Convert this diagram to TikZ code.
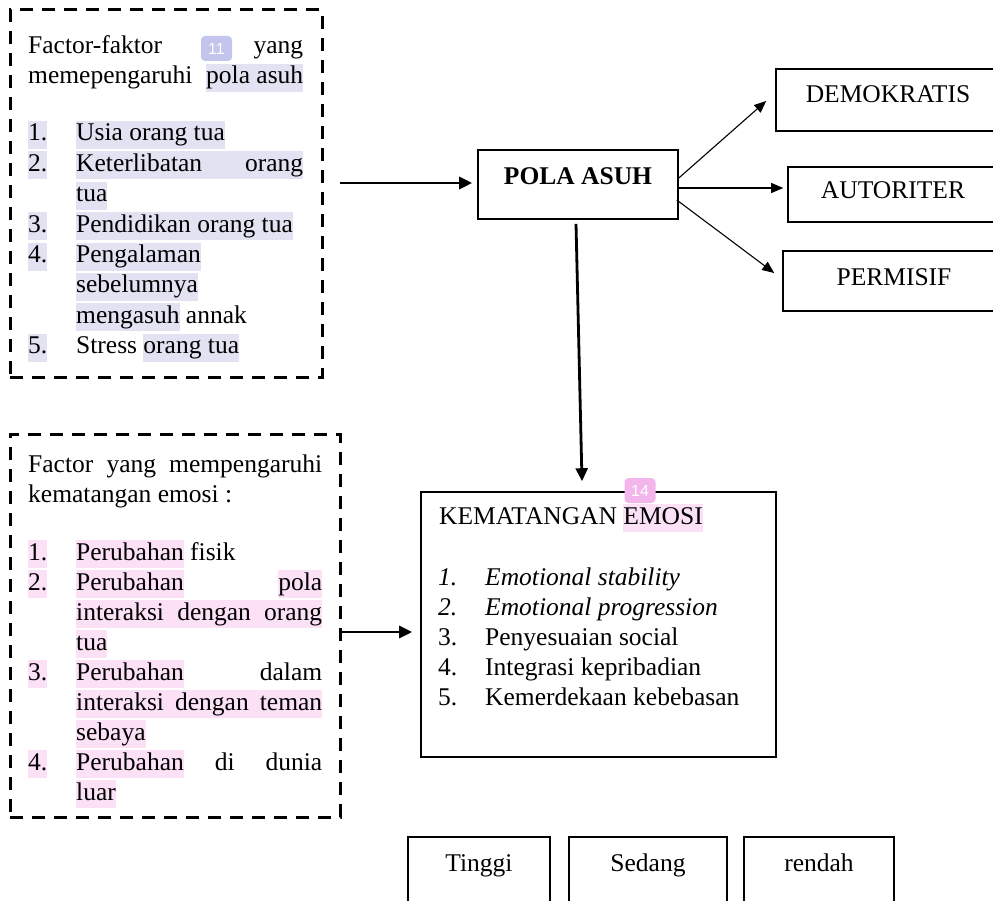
\documentclass[tikz,border=0pt]{standalone}
\usepackage{fontspec}
\setmainfont{Liberation Serif}
\newfontfamily\badgefont{Liberation Sans}
\usetikzlibrary{arrows.meta,calc}
\definecolor{hla}{HTML}{E2E2F3}
\definecolor{hlb}{HTML}{FBE0F6}
\definecolor{badgea}{HTML}{C3C5EC}
\definecolor{badgeb}{HTML}{F3B6EC}
\newcommand\hlstrut{\rule[-8pt]{0pt}{28pt}}
\newcommand\hla[1]{{\setlength\fboxsep{0pt}\colorbox{hla}{\hlstrut#1}}}
\newcommand\hlb[1]{{\setlength\fboxsep{0pt}\colorbox{hlb}{\hlstrut#1}}}
\newcommand\numbox[2][48pt]{\makebox[#1][l]{#2}}
\newcommand\bodyfont{\fontsize{25.5pt}{30pt}\selectfont}
\begin{document}
\begin{tikzpicture}[x=1pt,y=-1pt,
  txt/.style={anchor=base west, inner sep=0pt, font=\bodyfont},
  dbox/.style={draw, dash pattern=on 13pt off 9pt, line width=3pt, inner sep=0pt},
  sbox/.style={draw, line width=1.6pt, inner sep=0pt, font=\bodyfont, anchor=base},
  bigarrow/.style={-{Triangle[length=13pt,width=12pt]}, line width=2.8pt},
  thinarrow/.style={-{Triangle[length=12pt,width=10pt]}, line width=1.1pt},
  badge/.style={rounded corners=4pt, inner sep=0pt, text=white, font=\badgefont\fontsize{16pt}{16pt}\selectfont, minimum width=31pt, minimum height=25pt}]
\clip (0,0) rectangle (993,901);
\fill[white] (0,0) rectangle (993,901);

% dashed factor boxes
\node[dbox, minimum width=312pt, minimum height=367pt] (fk1) at (166,193.5) {};
\node[dbox, minimum width=330pt, minimum height=383pt] (fk2) at (175,625.5) {};

% top-left text
\node[txt] (a0) at (28,54) {\makebox[275pt][s]{Factor-faktor\hfill yang}};
\node[badge, fill=badgea] (b11) at (216.5,48.5) {11};
\node[txt] (a1) at (28,84) {\makebox[275pt][s]{memepengaruhi \hla{pola asuh}}};
\node[txt] (a3) at (28,141) {\numbox{\hla{1.}}\hla{Usia orang tua}};
\node[txt] (a4) at (28,171.4) {\numbox{\hla{2.}}\hla{\makebox[227pt][s]{Keterlibatan orang}}};
\node[txt] (a5) at (76,201.8) {\hla{tua}};
\node[txt] (a6) at (28,232.2) {\numbox{\hla{3.}}\hla{Pendidikan orang tua}};
\node[txt] (a7) at (28,262.6) {\numbox{\hla{4.}}\hla{Pengalaman}};
\node[txt] (a8) at (76,293) {\hla{sebelumnya}};
\node[txt] (a9) at (76,323.4) {\hla{mengasuh} annak};
\node[txt] (a10) at (28,353.8) {\numbox{\hla{5.}}Stress \hla{orang tua}};

% bottom-left text
\node[txt] (c0) at (28,472) {\makebox[294pt][s]{Factor yang mempengaruhi}};
\node[txt] (c1) at (28,502) {kematangan emosi :};
\node[txt] (c3) at (28,560) {\numbox{\hlb{1.}}\hlb{Perubahan} fisik};
\node[txt] (c4) at (28,590) {\numbox{\hlb{2.}}\makebox[246pt][s]{\hlb{Perubahan}\hfill\hlb{pola}}};
\node[txt] (c5) at (76,620) {\hlb{\makebox[246pt][s]{interaksi dengan orang}}};
\node[txt] (c6) at (76,650) {\hlb{tua}};
\node[txt] (c7) at (28,680) {\numbox{\hlb{3.}}\makebox[246pt][s]{\hlb{Perubahan}\hfill dalam}};
\node[txt] (c8) at (76,710) {\hlb{\makebox[246pt][s]{interaksi dengan teman}}};
\node[txt] (c9) at (76,740) {\hlb{sebaya}};
\node[txt] (c10) at (28,770) {\numbox{\hlb{4.}}\makebox[246pt][s]{\hlb{Perubahan} di dunia}};
\node[txt] (c11) at (76,800) {\hlb{luar}};

% solid boxes
\node[sbox, minimum width=200pt, text height=35pt, text depth=34pt] (pola) at (578,185) {\bfseries POLA ASUH};
\node[sbox, minimum width=224pt, text height=34pt, text depth=28pt] (dem) at (888,103) {DEMOKRATIS};
\node[sbox, minimum width=210pt, text height=32pt, text depth=23pt] (aut) at (893,199) {AUTORITER};
\node[sbox, minimum width=222pt, text height=35pt, text depth=25pt] (perm) at (894,286) {PERMISIF};
\node[sbox, anchor=center, minimum width=355pt, minimum height=265pt] (kem) at (598.5,624.5) {};
\node[sbox, minimum width=142pt, text height=34pt, text depth=50pt] (tinggi) at (479,871) {Tinggi};
\node[sbox, minimum width=158pt, text height=34pt, text depth=50pt] (sedang) at (648,871) {Sedang};
\node[sbox, minimum width=150pt, text height=34pt, text depth=50pt] (rendah) at (819,871) {rendah};

% KEMATANGAN text
\node[txt] (k0) at (439,524) {KEMATANGAN \hlb{EMOSI}};
\node[badge, fill=badgeb] (b14) at (640,490.5) {14};
\node[txt] (k1) at (438,585) {\numbox[47pt]{\textit{1.}}\textit{Emotional stability}};
\node[txt] (k2) at (438,615) {\numbox[47pt]{\textit{2.}}\textit{Emotional progression}};
\node[txt] (k3) at (438,645) {\numbox[47pt]{3.}Penyesuaian social};
\node[txt] (k4) at (438,675) {\numbox[47pt]{4.}Integrasi kepribadian};
\node[txt] (k5) at (438,705) {\numbox[47pt]{5.}Kemerdekaan kebebasan};

% connectors
\coordinate (a1s) at ($(fk1.east)+(16,-10.5)$);
\draw[bigarrow] (a1s) -- ($(pola.west)+(-5,-1.5)$);
\draw[thinarrow] ($(pola.east)+(0,-6.5)$) -- ($(dem.west)+(-9,1)$);
\draw[thinarrow] ($(pola.east)+(0,3.5)$) -- ($(aut.west)+(-4,-6.5)$);
\draw[thinarrow] ($(pola.east)+(-2,15.5)$) -- ($(perm.west)+(-8,-8)$);
\draw[bigarrow] ($(pola.south)+(-2,4)$) -- ($(kem.north)+(-16.5,-10)$);
\coordinate (a2s) at ($(fk2.east)+(-2,6.5)$);
\draw[bigarrow] (a2s) -- ($(kem.west)+(-8,7.5)$);
\end{tikzpicture}
\end{document}
